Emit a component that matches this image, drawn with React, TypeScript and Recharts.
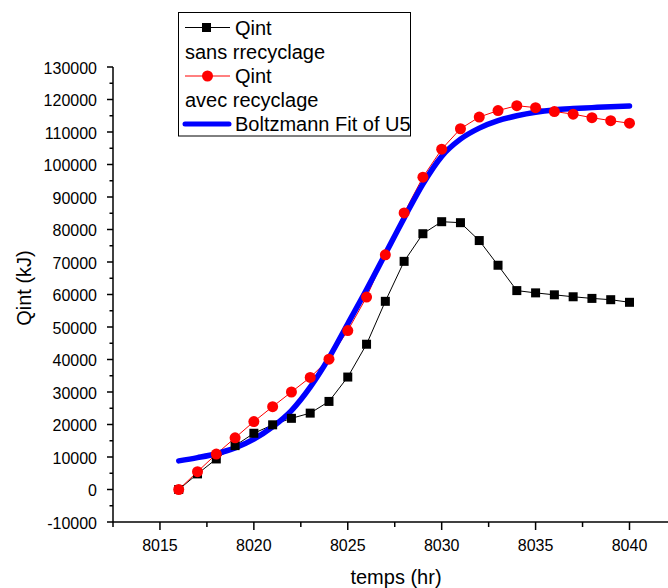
import React from "react";
import { LineChart, Line, XAxis, YAxis, Label } from "recharts";

const hours = [8016, 8017, 8018, 8019, 8020, 8021, 8022, 8023, 8024, 8025, 8026, 8027, 8028, 8029, 8030, 8031, 8032, 8033, 8034, 8035, 8036, 8037, 8038, 8039, 8040];
const sansRecyclage = [0, 4800, 9400, 13500, 17300, 19900, 21900, 23500, 27100, 34600, 44700, 57900, 70200, 78700, 82400, 82100, 76600, 69000, 61200, 60500, 59900, 59300, 58800, 58400, 57600];
const avecRecyclage = [0, 5500, 10900, 15900, 20900, 25500, 30000, 34500, 40100, 48900, 59200, 72200, 85100, 96100, 104700, 111000, 114600, 116600, 118100, 117500, 116300, 115500, 114400, 113500, 112700];
const boltzmannFit = [8800, 9800, 11000, 12800, 15500, 19300, 24300, 31500, 40500, 51000, 61500, 72500, 83500, 94000, 102500, 107800, 111200, 113500, 115000, 116100, 116800, 117200, 117500, 117800, 118000];

const xTicks = [8012.5, 8015, 8017.5, 8020, 8022.5, 8025, 8027.5, 8030, 8032.5, 8035, 8037.5, 8040];
const yTicks = [-10000, -5000, 0, 5000, 10000, 15000, 20000, 25000, 30000, 35000, 40000, 45000, 50000, 55000, 60000, 65000, 70000, 75000, 80000, 85000, 90000, 95000, 100000, 105000, 110000, 115000, 120000, 125000, 130000];

const xTitle = "temps (hr)";
const yTitle = "Qint (kJ)";
const legendLabels = ["Qint", "sans rrecyclage", "Qint", "avec recyclage", "Boltzmann Fit of U5"];

const data = hours.map((h, i) => ({
  hour: h,
  sans: sansRecyclage[i],
  avec: avecRecyclage[i],
  fit: boltzmannFit[i],
}));

const FONT = '"Liberation Sans", Arial, Helvetica, sans-serif';

const XTick = (props: any) => {
  const { x, y, payload } = props;
  const v = payload.value as number;
  const major = Math.abs(v % 5) < 1e-6;
  return (
    <g>
      <line x1={x} x2={x} y1={y} y2={y + (major ? 8 : 5)} stroke="#000" strokeWidth={1.5} />
      {major && (
        <text x={x} y={y + 28.5} textAnchor="middle" fontSize={16} fontFamily={FONT} fill="#000">
          {v}
        </text>
      )}
    </g>
  );
};

const YTick = (props: any) => {
  const { x, y, payload } = props;
  const v = payload.value as number;
  const major = Math.abs(v % 10000) < 1e-6;
  return (
    <g>
      <line x1={x - (major ? 6 : 3.5)} x2={x} y1={y} y2={y} stroke="#000" strokeWidth={1.5} />
      {major && (
        <text x={x - 16} y={y + 6.5} textAnchor="end" fontSize={16} fontFamily={FONT} fill="#000">
          {v}
        </text>
      )}
    </g>
  );
};

const SquareDot = (props: any) => {
  const { cx, cy, index } = props;
  if (cx == null || cy == null) return <g key={`s${index}`} />;
  return <rect key={`s${index}`} x={cx - 4.5} y={cy - 4.5} width={9} height={9} fill="#000" />;
};

const CircleDot = (props: any) => {
  const { cx, cy, index } = props;
  if (cx == null || cy == null) return <g key={`c${index}`} />;
  return <circle key={`c${index}`} cx={cx} cy={cy} r={5.5} fill="#ff0000" />;
};

const LegendBox = () => (
  <svg
    width={240}
    height={130}
    style={{ position: "absolute", left: 176, top: 10, overflow: "visible" }}
  >
    <g transform="translate(-176,-10)">
      <rect x={178.5} y={12.5} width={232} height={123.5} fill="#fff" stroke="#000" strokeWidth={1} />
      <line x1={185} x2={230} y1={27.5} y2={27.5} stroke="#000" strokeWidth={1} />
      <rect x={202} y={23} width={9} height={9} fill="#000" />
      <text x={235} y={34.5} fontSize={20} fontFamily={FONT} fill="#000">{legendLabels[0]}</text>
      <text x={185} y={58.7} fontSize={20} fontFamily={FONT} fill="#000">{legendLabels[1]}</text>
      <line x1={185} x2={230} y1={76} y2={76} stroke="#ff0000" strokeWidth={1} />
      <circle cx={207.5} cy={76} r={5.5} fill="#ff0000" />
      <text x={235} y={82.9} fontSize={20} fontFamily={FONT} fill="#000">{legendLabels[2]}</text>
      <text x={185} y={107} fontSize={20} fontFamily={FONT} fill="#000">{legendLabels[3]}</text>
      <line x1={185} x2={229} y1={124} y2={124} stroke="#0000ff" strokeWidth={5} strokeLinecap="round" />
      <text x={235} y={131.2} fontSize={20} fontFamily={FONT} fill="#000">{legendLabels[4]}</text>
    </g>
  </svg>
);

export default function App() {
  return (
    <div
      style={{
        position: "absolute",
        left: 0,
        top: 0,
        width: 668,
        height: 588,
        overflow: "hidden",
        background: "#fff",
      }}
    >
      <LineChart width={668} height={588} data={data} margin={{ top: 67, right: 0, bottom: 0, left: 0 }}>
        <XAxis
          dataKey="hour"
          type="number"
          domain={[8012.5, 8042.05]}
          allowDataOverflow
          ticks={xTicks}
          interval={0}
          tickLine={false}
          tickSize={0}
          tickMargin={0}
          tick={<XTick />}
          height={66}
          axisLine={{ stroke: "#000", strokeWidth: 1.5 }}
        >
          <Label
            content={() => (
              <text x={396} y={584} textAnchor="middle" fontSize={20} fontFamily={FONT} fill="#000">
                {xTitle}
              </text>
            )}
          />
        </XAxis>
        <YAxis
          type="number"
          domain={[-10000, 130000]}
          allowDataOverflow
          ticks={yTicks}
          interval={0}
          tickLine={false}
          tickSize={0}
          tickMargin={0}
          tick={<YTick />}
          width={113}
          axisLine={{ stroke: "#000", strokeWidth: 1.5 }}
        >
          <Label
            content={() => (
              <text
                x={0}
                y={0}
                transform="translate(31,288) rotate(-90)"
                textAnchor="middle"
                fontSize={20}
                fontFamily={FONT}
                fill="#000"
              >
                {yTitle}
              </text>
            )}
          />
        </YAxis>
        <Line
          type="linear"
          dataKey="sans"
          stroke="#000"
          strokeWidth={1}
          dot={SquareDot}
          activeDot={false}
          isAnimationActive={false}
        />
        <Line
          type="linear"
          dataKey="avec"
          stroke="#ff0000"
          strokeWidth={1}
          dot={CircleDot}
          activeDot={false}
          isAnimationActive={false}
        />
        <Line
          type="monotone"
          dataKey="fit"
          stroke="#0000ff"
          strokeWidth={5.5}
          strokeLinecap="round"
          dot={false}
          activeDot={false}
          isAnimationActive={false}
        />
      </LineChart>
      <LegendBox />
    </div>
  );
}
